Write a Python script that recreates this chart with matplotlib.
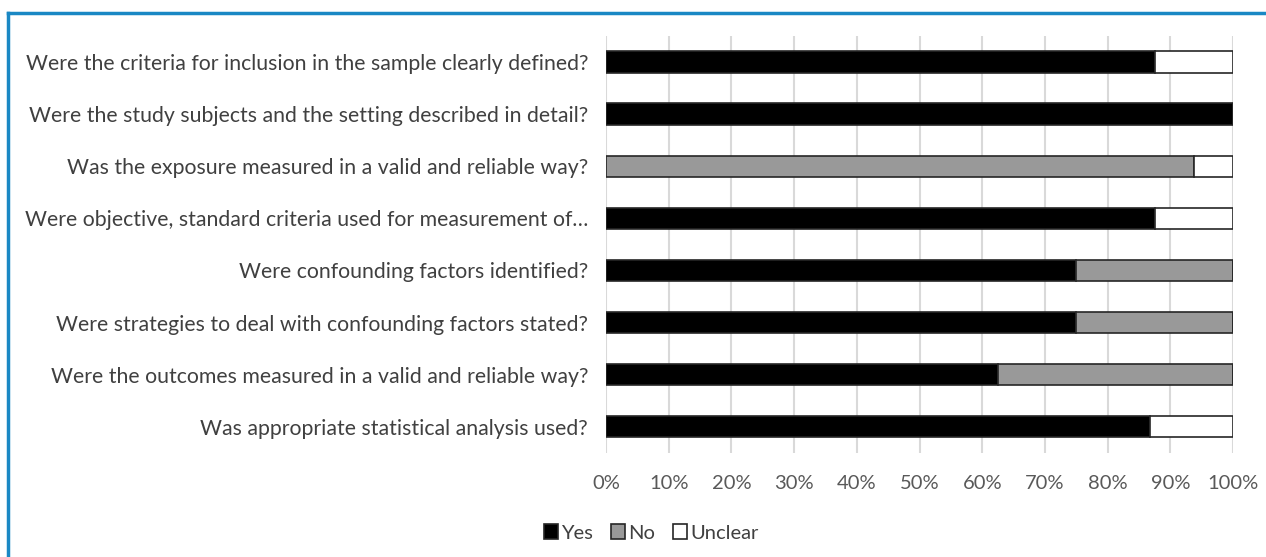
import matplotlib
matplotlib.use("Agg")
import matplotlib.pyplot as plt
from matplotlib.lines import Line2D
from matplotlib.ticker import PercentFormatter

plt.rcParams['font.family'] = ['Lato', 'DejaVu Sans']

questions = [
    "Were the criteria for inclusion in the sample clearly defined?",
    "Were the study subjects and the setting described in detail?",
    "Was the exposure measured in a valid and reliable way?",
    "Were objective, standard criteria used for measurement of…",
    "Were confounding factors identified?",
    "Were strategies to deal with confounding factors stated?",
    "Were the outcomes measured in a valid and reliable way?",
    "Was appropriate statistical analysis used?",
]
yes = [87.5, 100, 0, 87.5, 75, 75, 62.5, 86.7]
no = [0, 0, 93.75, 0, 25, 25, 37.5, 0]
unclear = [12.5, 0, 6.25, 12.5, 0, 0, 0, 13.3]
ticks = [0, 10, 20, 30, 40, 50, 60, 70, 80, 90, 100]

fig = plt.figure(figsize=(12.66, 5.57), dpi=100)
ax = fig.add_axes([0.4787, 0.187, 0.4953, 0.7484])

y = list(range(len(questions)))
h = 0.41
edge = "#262626"
ax.barh(y, yes, height=h, color="black", edgecolor=edge, linewidth=1.2, label="Yes", zorder=3)
left2 = yes
ax.barh(y, no, left=left2, height=h, color="#999999", edgecolor=edge, linewidth=1.2, label="No", zorder=3)
left3 = [a + b for a, b in zip(yes, no)]
ax.barh(y, unclear, left=left3, height=h, color="white", edgecolor=edge, linewidth=1.2, label="Unclear", zorder=3)

ax.set_xlim(0, 100)
ax.set_ylim(len(questions) - 0.5, -0.5)
ax.set_xticks(ticks)
ax.xaxis.set_major_formatter(PercentFormatter(decimals=0))
ax.set_yticks(y)
ax.set_yticklabels(questions, fontsize=15.3, color="#404040")
ax.tick_params(axis="x", labelsize=14.5, labelcolor="#595959", length=0, pad=16)
ax.tick_params(axis="y", length=0, pad=13)
ax.grid(axis="x", color="#d9d9d9", linewidth=1.5, zorder=0)
for s in ax.spines.values():
    s.set_visible(False)

ax.legend(loc="center", bbox_to_anchor=(651 / 1266, 1 - 533 / 557), bbox_transform=fig.transFigure,
          ncol=3, frameon=False, fontsize=14.5, labelcolor="#404040",
          handlelength=0.7, handleheight=0.7, handletextpad=0.15, columnspacing=0.9)

# frame lines along the top and left
fig.add_artist(Line2D([8 / 1266, 1], [1 - 13 / 557, 1 - 13 / 557], color="#1a88c4", linewidth=2.5,
                      transform=fig.transFigure))
fig.add_artist(Line2D([8 / 1266, 8 / 1266], [0, 1 - 13 / 557], color="#1a88c4", linewidth=2.5,
                      transform=fig.transFigure))

fig.savefig("out.png", dpi=100, facecolor="white")
